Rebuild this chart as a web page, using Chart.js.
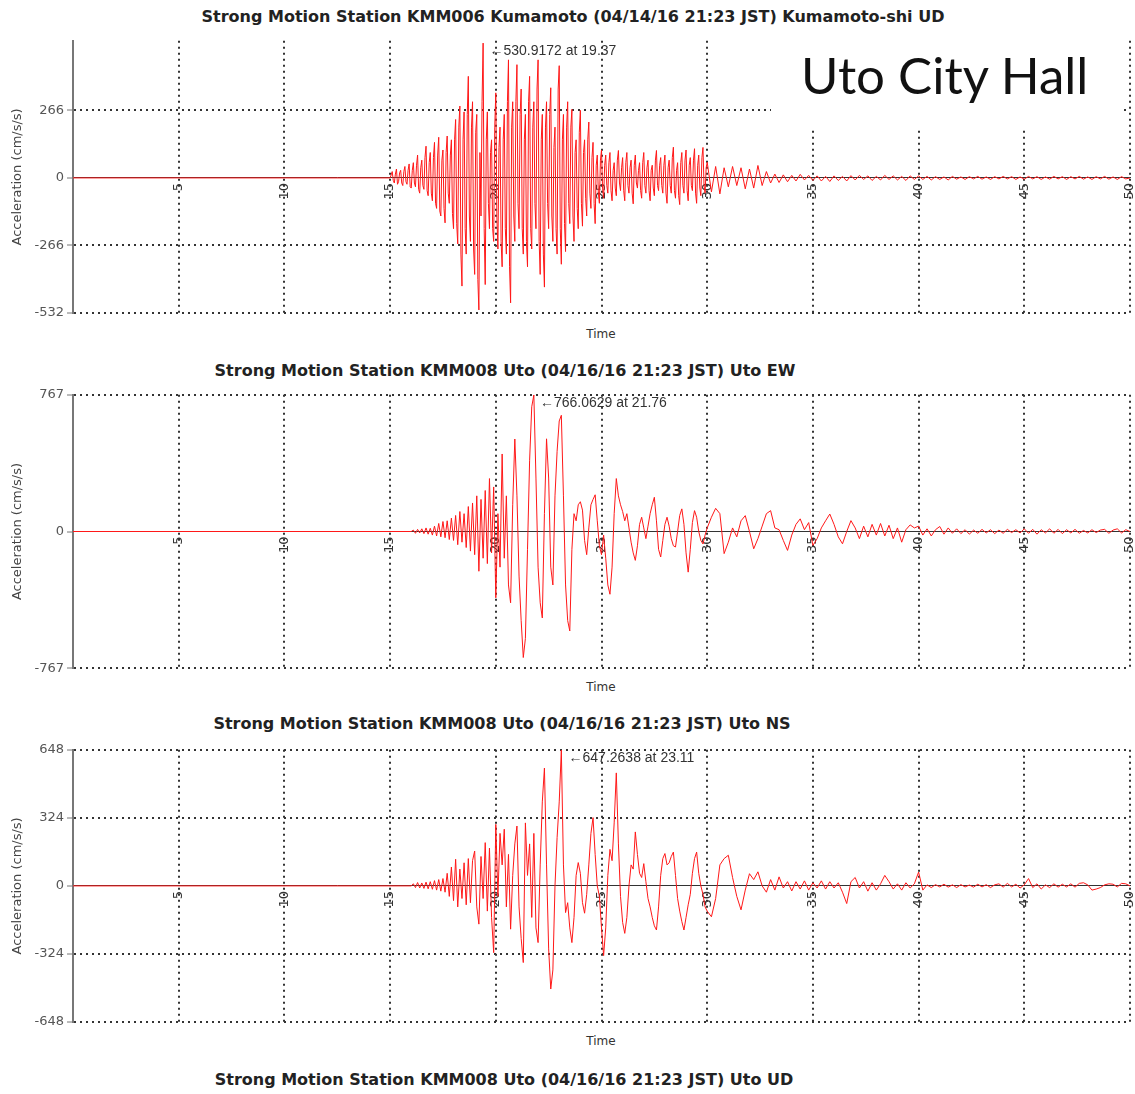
<!DOCTYPE html>
<html>
<head>
<meta charset="utf-8">
<title>Strong Motion Station records</title>
<script src="https://cdn.jsdelivr.net/npm/chart.js@4.4.1/dist/chart.umd.min.js"></script>
<style>
  body { margin: 0; background: #fff; }
  #page { position: relative; width: 1135px; height: 1094px; overflow: hidden; font-family: "DejaVu Sans", sans-serif; }
  canvas { position: absolute; left: 0; }
  .title { position: absolute; transform: translateX(-50%); white-space: nowrap; font-weight: bold; font-size: 16px; color: #222; }
  .time { position: absolute; left: 601px; transform: translateX(-50%); font-size: 12px; color: #333; }
  #stamp { position: absolute; left: 771px; top: 38px; width: 349px; height: 90px; background: #fff; }
  #stamp span { position: absolute; left: 30px; top: 11px; font-family: Lato, sans-serif; font-size: 51px; line-height: 51px; color: #111; white-space: nowrap; }
</style>
</head>
<body>
<div id="page">
  <div class="title" style="left:573px; top:7px;">Strong Motion Station KMM006 Kumamoto (04/14/16 21:23 JST) Kumamoto-shi UD</div>
  <canvas id="chartUD" width="1135" height="295" style="top:30px"></canvas>
  <div class="time" style="top:327px;">Time</div>
  <div id="stamp"><span>Uto City Hall</span></div>

  <div class="title" style="left:505px; top:361px;">Strong Motion Station KMM008 Uto (04/16/16 21:23 JST) Uto EW</div>
  <canvas id="chartEW" width="1135" height="295" style="top:384px"></canvas>
  <div class="time" style="top:680px;">Time</div>

  <div class="title" style="left:502px; top:714px;">Strong Motion Station KMM008 Uto (04/16/16 21:23 JST) Uto NS</div>
  <canvas id="chartNS" width="1135" height="295" style="top:739px"></canvas>
  <div class="time" style="top:1034px;">Time</div>

  <div class="title" style="left:504px; top:1070px;">Strong Motion Station KMM008 Uto (04/16/16 21:23 JST) Uto UD</div>
</div>
<script>
// time axis ticks (s)
const xTicks = [5, 10, 15, 20, 25, 30, 35, 40, 45, 50];
const TAIL_STEP = 0.2;    // sampling after 30 s
const TAIL_START = 30;

// Kumamoto-shi UD  (cm/s/s), 0.05 s steps from 15 s
const udTicks = [-532, -266, 0, 266];
const udStart = 15.0;
const udStep = 0.05;
const udEarly = [
  0, 12, 25, -10, -20, 15, 35, -25, -15, 20, 30, -20, -30, 25, 45, -15, -25, 30, 55, -35,
  -40, 30, 60, -20, -35, 50, 90, -45, -60, 40, 70, -30, -45, 80, 125, -50, -70, 60, 100, -60,
  -90, 80, 140, -100, -120, 90, 160, -130, -150, 70, 110, -120, -177, 100, 165, -60, -100, 90, 150, -140,
  -200, 150, 230, -180, -260, 200, 283, -300, -426, 150, 260, -200, -300, 250, 400, -150, -250, 200, 300, -280,
  -380, 180, 250, -400, -520, 100, -150, 300, 531, -200, -420, 150, 260, -100, -200, 100, 150, -200, -250, 200,
  335, -150, -280, 120, 200, -250, -350, 150, 250, -200, -300, 300, 465, -350, -492, 200, 300, -150, -250, 300,
  446, -100, -200, 250, 350, -200, -300, 150, 250, -250, -350, 300, 400, -200, -280, 200, 300, -100, -200, 350,
  465, -250, -380, 150, 250, -300, -430, 200, 300, -100, -200, 250, 355, -150, -250, 120, 200, -200, -300, 350,
  442, -200, -340, 150, 250, -180, -290, 200, 300, -100, -180, 200, 270, -150, -250, 100, 150, -120, -200, 180,
  266, -100, -190, 100, 150, -80, -150, 150, 220, -60, -120, 80, 140, -100, -180, 50, 90, -60, -100, 70,
  110, -40, -80, 50, 90, -30, -60, 60, 100, -50, -90, 30, 60, -40, -70, 70, 108, -20, -50, 40,
  80, -50, -90, 60, 100, -30, -60, 40, 70, -60, -102, 50, 90, -20, -40, 30, 60, -50, -80, 60,
  100, -30, -60, 40, 70, -50, -90, 30, 50, -40, -70, 70, 108, -30, -50, 50, 80, -30, -60, 50,
  90, -60, -100, 40, 70, -30, -60, 80, 121, -50, -80, 30, 60, -70, -105, 60, 100, -30, -60, 70,
  110, -50, -90, 50, 80, -30, -50, 70, 115, -60, -100, 50, 90, -40, -70, 80, 120, -30, -60, 40
];
const udTail = [
  62, -55, 45, -63, 40, -35, 45, -30, 40, -43,
  35, -40, 49, -30, 25, -20, 15, -18, 12, -15,
  10, -12, 14, -8, 10, -10, 8, -12, 6, -14,
  8, -10, 6, -12, 9, -8, 10, -6, 8, -10,
  6, -8, 10, -6, 8, -8, 6, -10, 8, -6,
  8, -6, 6, -8, 5, -6, 4, -8, 6, -5,
  4, -6, 5, -4, 6, -5, 4, -6, 5, -4,
  6, -4, 5, -6, 4, -5, 6, -4, 5, -6,
  4, -5, 6, -4, 5, -6, 5, -4, 6, -5,
  4, -6, 5, -4, 6, -5, 4, -6, 5, -4,
  0
];
const udPeak = { time: 19.37, value: 530.9172 };

// Uto EW, 0.1 s steps from 16 s
const ewTicks = [-767, 0, 767];
const ewStart = 16.0;
const ewStep = 0.1;
const ewEarly = [
  0, 8, -10, 12, -8, 15, -12, 20, -15, 18,
  -20, 30, -25, 45, -30, 56, -35, 60, -45, 75,
  -50, 90, -74, 112, -60, 100, -90, 140, -110, 160,
  -130, 200, -223, 180, -150, 230, -180, 297, -120, 250,
  -372, 100, -200, 435, -150, 200, -300, -400, 150, 519,
  200, -250, -500, -707, -600, -100, 400, 700, 766, 300,
  -200, -400, -485, 100, 520, 300, -200, -300, 200, 450,
  620, 652, 200, -300, -500, -558, -100, 100, 60, 150,
  167, 120, -50, -130, 20, 150, 180, 206, 60, -80,
  -130, -20, -150, -300, -352, -200, 100, 297, 200, 150,
  112, 60, 100, 20, -60, -120, -162, -80, 40, 80,
  20, -40, 30, 100, 150, 192, 60, -100, -143, -50,
  40, 80, 30, -40, -80, -87, 0, 90, 127, 40,
  -120, -228, -100, 50, 117, 80, 0, -50, -70, -20
];
const ewTail = [
  20, 80, 130, 100, -124, -60, 20, -30, 60, 89,
  0, -97, -40, 30, 100, 117, 20, 10, -50, -106,
  -20, 40, 71, 10, 50, -78, -40, 20, 60, 98,
  40, -30, -69, 0, 61, 20, -40, 30, -30, 40,
  -20, 45, -25, 35, -40, 20, -60, 10, 37, 20,
  30, -20, 15, -25, 10, 28, -15, 20, -10, 15,
  -12, 10, -15, 8, -10, 12, -8, 10, -12, 8,
  -10, 12, -6, 10, -8, 15, -10, 12, -15, 10,
  -8, 15, -10, 12, -12, 10, -8, 12, -10, 6,
  -8, 10, -6, 8, 12, -10, 8, 15, -8, 10,
  0
];
const ewPeak = { time: 21.76, value: 766.0629 };

// Uto NS, 0.1 s steps from 16 s
const nsTicks = [-648, -324, 0, 324, 648];
const nsStart = 16.0;
const nsStep = 0.1;
const nsEarly = [
  0, 10, -8, 16, -10, 14, -12, 18, -14, 20,
  -16, 25, -20, 30, -25, 35, -30, 60, -50, 90,
  -70, 127, -100, 80, -60, 110, -90, 130, -80, 120,
  166, -100, -182, 140, -60, 206, -120, 180, -150, -318,
  293, -50, 250, 100, 270, -100, 150, -206, 50, 200,
  285, -100, -250, -365, 300, 50, 200, -150, 250, -200,
  -270, 100, 400, 561, 100, -300, -491, -400, 0, 230,
  400, 647, 100, -127, -80, -200, -270, -150, 50, 111,
  60, -80, -130, -40, 100, 250, 325, 150, 0, -50,
  -200, -332, -200, 50, 174, 120, 300, 538, 200, -50,
  -174, -226, -150, 0, 100, 80, 257, 150, 60, 40,
  106, 20, -60, -100, -150, -190, -210, -100, 50, 130,
  154, 100, 110, 140, 161, 50, -60, -120, -170, -210,
  -150, -90, -40, 60, 130, 161, 60, 0, -40, -100
];
const nsTail = [
  -120, -147, -60, 100, 130, 146, 40, -50, -114, -20,
  58, 30, 67, 0, -30, 30, -20, 43, -10, 20,
  -24, 20, -15, 24, -20, 15, -10, 24, -15, 20,
  -10, 15, -30, -84, 20, 40, -10, 20, -25, 15,
  -20, 10, 50, 20, -15, 10, -20, 15, -10, 10,
  66, -20, 5, -8, 6, -5, 8, -6, 5, -8,
  6, -5, 4, -6, 8, -5, 6, -8, 5, 10,
  -6, 12, -5, 8, -10, 5, 35, -8, 10, -15,
  5, -8, 10, -6, 8, -5, 10, -6, 12, 15,
  5, -20, -15, -8, 5, 10, 8, -5, 12, 10,
  0
];
const nsPeak = { time: 23.11, value: 647.2638 };

function buildSeries(start, step, early, tail) {
  const pts = [{ x: 0, y: 0 }];
  early.forEach(function(v, i) {
    pts.push({ x: Math.round((start + i * step) * 100) / 100, y: v });
  });
  tail.forEach(function(v, i) {
    pts.push({ x: Math.round((TAIL_START + i * TAIL_STEP) * 100) / 100, y: v });
  });
  return pts;
}

// "<-value at time" note next to the peak
const peakLabel = {
  id: 'peakLabel',
  afterDatasetsDraw(chart, args, opts) {
    const ctx = chart.ctx;
    const x = chart.scales.x.getPixelForValue(opts.time) + 7;
    const y = chart.scales.y.getPixelForValue(opts.value) + 1;
    ctx.save();
    ctx.font = '14px "Liberation Sans", "DejaVu Sans", sans-serif';
    ctx.fillStyle = '#333';
    ctx.textBaseline = 'top';
    ctx.fillText('\u2190' + opts.value.toFixed(4) + ' at ' + opts.time.toFixed(2), x, y);
    ctx.restore();
  }
};

function drawRecord(id, points, yTicks, yMin, yMax, peak, padBottom) {
  return new Chart(document.getElementById(id), {
    type: 'line',
    data: {
      datasets: [{
        data: points,
        borderColor: 'rgb(255,24,24)',
        borderWidth: 1,
        pointRadius: 0,
        tension: 0
      }]
    },
    options: {
      responsive: false,
      animation: false,
      layout: { padding: { top: 10, bottom: padBottom, left: 0, right: 5 } },
      plugins: {
        legend: { display: false },
        tooltip: { enabled: false },
        peakLabel: peak
      },
      scales: {
        x: {
          type: 'linear',
          min: 0,
          max: 50,
          position: { y: 0 },
          afterBuildTicks: function(scale) {
            scale.ticks = xTicks.map(function(v) { return { value: v }; });
          },
          afterFit: function(scale) {
            scale.paddingLeft = 0;
            scale.paddingRight = 0;
          },
          grid: { color: '#333', lineWidth: 2, drawTicks: false },
          border: { display: true, color: '#333', width: 1, dash: [2, 4] },
          ticks: {
            autoSkip: false,
            minRotation: 90,
            maxRotation: 90,
            padding: 5,
            color: '#333',
            font: { family: '"DejaVu Sans", sans-serif', size: 13 }
          }
        },
        y: {
          min: yMin,
          max: yMax,
          afterBuildTicks: function(scale) {
            scale.ticks = yTicks.map(function(v) { return { value: v }; });
          },
          afterFit: function(scale) { scale.width = 73; },
          grid: {
            color: function(c) { return c.tick && c.tick.value === 0 ? 'transparent' : '#333'; },
            lineWidth: 2,
            tickLength: 6,
            tickColor: '#777',
            tickWidth: 1,
            tickBorderDash: []
          },
          border: { display: true, color: '#777', width: 2, dash: [2, 4] },
          ticks: {
            padding: 3,
            color: '#555',
            font: { family: '"DejaVu Sans", sans-serif', size: 13 }
          },
          title: {
            display: true,
            text: 'Acceleration (cm/s/s)',
            color: '#444',
            padding: { top: 10, bottom: 0 },
            font: { family: '"DejaVu Sans", sans-serif', size: 13 }
          }
        }
      }
    },
    plugins: [peakLabel]
  });
}

drawRecord('chartUD', buildSeries(udStart, udStep, udEarly, udTail), udTicks, -532, 540, udPeak, 12);
drawRecord('chartEW', buildSeries(ewStart, ewStep, ewEarly, ewTail), ewTicks, -767, 767, ewPeak, 10);
drawRecord('chartNS', buildSeries(nsStart, nsStep, nsEarly, nsTail), nsTicks, -648, 648, nsPeak, 12);
</script>
</body>
</html>
